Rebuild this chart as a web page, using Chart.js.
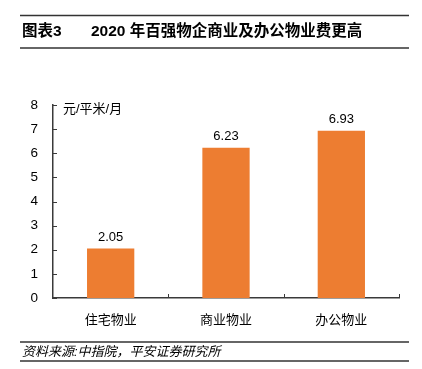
<!DOCTYPE html>
<html>
<head>
<meta charset="utf-8">
<script src="https://cdn.jsdelivr.net/npm/chart.js@4"></script>
<style>
    html, body { margin: 0; padding: 0; background: #fff; }
    #wrap { position: relative; width: 422px; height: 369px; }
</style>
</head>
<body>
<div id="wrap"><canvas id="feeChart" width="422" height="369"></canvas></div>
<script>
// data
const categories = ['住宅物业', '商业物业', '办公物业'];
const feeValues = [2.05, 6.23, 6.93];
const yTicks = [0, 1, 2, 3, 4, 5, 6, 7, 8];

const FONT = '"Liberation Sans", Arial, "Noto Sans CJK SC", sans-serif';
const BAR_COLOR = '#ED7D31';
const AXIS_COLOR = '#3a3a3a';

// title, rules, source note, unit label, inward ticks, value labels
const decorPlugin = {
    id: 'decor',
    afterDraw(chart) {
        const ctx = chart.ctx;
        const y = chart.scales.y;
        const area = chart.chartArea;
        ctx.save();

        // horizontal rules
        ctx.strokeStyle = '#333';
        ctx.lineWidth = 1.5;
        [15.5, 48, 342, 361].forEach(ly => {
            ctx.beginPath();
            ctx.moveTo(20, ly);
            ctx.lineTo(409, ly);
            ctx.stroke();
        });

        // title
        ctx.fillStyle = '#000';
        ctx.textBaseline = 'middle';
        ctx.textAlign = 'left';
        ctx.font = 'bold 15.5px ' + FONT;
        ctx.fillText('图表3', 22, 32);
        ctx.fillText('2020 年百强物企商业及办公物业费更高', 91, 32);

        // source note
        ctx.font = 'italic 13px ' + FONT;
        ctx.fillText('资料来源:中指院，平安证券研究所', 22, 352);

        // unit label
        ctx.font = '13px ' + FONT;
        ctx.fillText('元/平米/月', 63, 109);

        // inward ticks
        ctx.strokeStyle = AXIS_COLOR;
        ctx.lineWidth = 1;
        yTicks.forEach(v => {
            const py = Math.round(y.getPixelForValue(v)) + 0.5;
            ctx.beginPath();
            ctx.moveTo(area.left, py);
            ctx.lineTo(area.left + 4, py);
            ctx.stroke();
        });
        for (let i = 1; i <= categories.length; i++) {
            const px = Math.round(area.left + (area.right - area.left) * i / categories.length) + 0.5;
            ctx.beginPath();
            ctx.moveTo(px, area.bottom);
            ctx.lineTo(px, area.bottom - 4);
            ctx.stroke();
        }

        // value labels
        ctx.fillStyle = '#000';
        ctx.font = '13px ' + FONT;
        ctx.textAlign = 'center';
        ctx.textBaseline = 'bottom';
        chart.getDatasetMeta(0).data.forEach((bar, i) => {
            ctx.fillText(feeValues[i].toFixed(2), bar.x, bar.y - 5);
        });

        ctx.restore();
    }
};

new Chart(document.getElementById('feeChart'), {
    type: 'bar',
    data: {
        labels: categories,
        datasets: [{
            data: feeValues,
            backgroundColor: BAR_COLOR,
            borderWidth: 0,
            categoryPercentage: 1,
            barPercentage: 0.41
        }]
    },
    options: {
        responsive: false,
        animation: false,
        devicePixelRatio: 1,
        layout: { padding: { left: 0, right: 23, top: 105, bottom: 0 } },
        plugins: {
            legend: { display: false },
            tooltip: { enabled: false }
        },
        scales: {
            x: {
                grid: { display: false, drawTicks: false },
                border: { display: true, color: AXIS_COLOR, width: 1.5 },
                ticks: {
                    padding: 15,
                    color: '#000',
                    font: { family: FONT, size: 13 }
                },
                afterFit(scale) { scale.height = 71; }
            },
            y: {
                min: 0,
                max: 8,
                grid: { display: false, drawTicks: false },
                border: { display: true, color: AXIS_COLOR, width: 1.5 },
                ticks: {
                    stepSize: 1,
                    padding: 15,
                    color: '#000',
                    font: { family: FONT, size: 13.5 }
                },
                afterFit(scale) { scale.width = 53; }
            }
        }
    },
    plugins: [decorPlugin]
});
</script>
</body>
</html>
